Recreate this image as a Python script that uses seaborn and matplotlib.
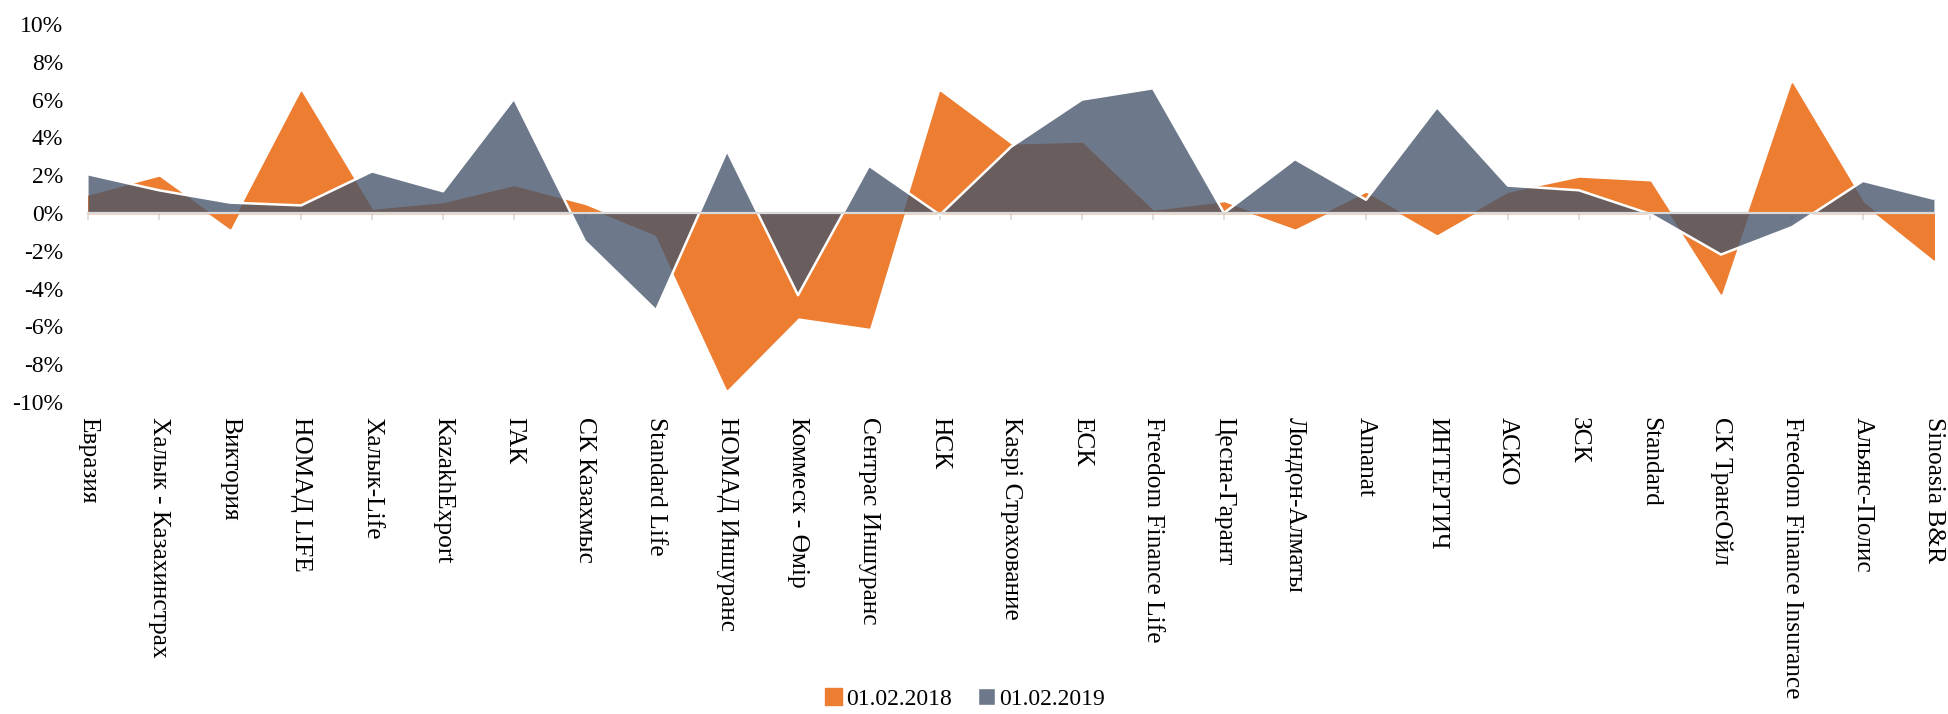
import numpy as np
import pandas as pd
import matplotlib
matplotlib.use('Agg')
import matplotlib.pyplot as plt
import seaborn as sns
from matplotlib.colors import to_rgba
from matplotlib.patches import Patch
from matplotlib.ticker import FuncFormatter

# Данные (изменение, %)
companies = ['Евразия', 'Халык - Казахинстрах', 'Виктория', 'НОМАД LIFE', 'Халык-Life',
             'KazakhExport', 'ГАК', 'СК Казахмыс', 'Standard Life', 'НОМАД Иншуранс',
             'Коммеск - Өмір', 'Сентрас Иншуранс', 'НСК', 'Kaspi Страхование', 'ЕСК',
             'Freedom Finance Life', 'Цесна-Гарант', 'Лондон-Алматы', 'Amanat', 'ИНТЕРТИЧ',
             'АСКО', 'ЗСК', 'Standard', 'СК ТрансОйл', 'Freedom Finance Insurance',
             'Альянс-Полис', 'Sinoasia B&R']
val_2018 = [0.9, 1.9, -0.8, 6.4, 0.15, 0.5, 1.4, 0.4, -1.15, -9.3, -5.5, -6.05, 6.4, 3.6,
            3.7, 0.1, 0.55, -0.8, 1.05, -1.1, 1.05, 1.85, 1.65, -4.25, 6.85, 0.55, -2.45]
val_2019 = [2.05, 1.2, 0.55, 0.4, 2.2, 1.15, 6.05, -1.5, -5.15, 3.3, -4.35, 2.5, -0.1, 3.5,
            6.0, 6.6, 0.0, 2.85, 0.7, 5.6, 1.45, 1.2, -0.05, -2.2, -0.75, 1.7, 0.75]
series_names = ['01.02.2018', '01.02.2019']

orange = '#ED7D31'
gray = to_rgba('#44546A', 0.78)

sns.set_theme(style='white')
plt.rcParams['font.family'] = ['Liberation Serif', 'DejaVu Serif']
plt.rcParams['font.size'] = 17
plt.rcParams['text.color'] = 'black'
plt.rcParams['xtick.color'] = 'black'
plt.rcParams['ytick.color'] = 'black'

df = pd.DataFrame({'Компания': companies, series_names[0]: val_2018, series_names[1]: val_2019})
df['x'] = np.arange(len(df))

fig = plt.figure(figsize=(19.48, 7.14), dpi=100)
ax = fig.add_axes([0.0452, 0.437, 0.9476, 0.5294])

# Области
ax.fill_between(df['x'], 0, df[series_names[0]], facecolor=orange, edgecolor=orange,
                linewidth=1.2, zorder=1)
ax.fill_between(df['x'], 0, df[series_names[1]], facecolor=gray, linewidth=0, zorder=1.1)
# белая граница серии 2019
sns.lineplot(data=df, x='x', y=series_names[1], ax=ax, color='white', linewidth=1.8,
             zorder=1.2)

ax.set_xlim(0, len(df) - 1)
ax.set_ylim(-10, 10)
ax.set_xlabel('')
ax.set_ylabel('')

# Ось категорий на нуле
for s in ['top', 'right', 'left']:
    ax.spines[s].set_visible(False)
ax.spines['bottom'].set_position(('data', 0))
ax.spines['bottom'].set_color('#D9D9D9')
ax.spines['bottom'].set_linewidth(1.6)
ax.spines['bottom'].set_zorder(3)
ax.set_xticks(df['x'])
ax.tick_params(axis='x', length=5, width=1.2, color='#D9D9D9', direction='out',
               labelbottom=False, bottom=True)

ax.set_yticks(range(-10, 11, 2))
ax.yaxis.set_major_formatter(FuncFormatter(lambda v, p: f'{v:.0f}%'))
ax.tick_params(axis='y', length=0, pad=18, labelsize=17)
ax.grid(False)

# Подписи категорий внизу
sec = ax.secondary_xaxis('bottom')
sec.set_xticks(df['x'], labels=companies, rotation=-90)
sec.tick_params(length=0, pad=11, labelsize=18.3)
sec.spines['bottom'].set_visible(False)

handles = [Patch(facecolor=orange, edgecolor=orange),
           Patch(facecolor=gray, edgecolor='white')]
fig.legend(handles, series_names, loc='center', bbox_to_anchor=(965 / 1948, 1 - 699 / 714),
           ncol=2, frameon=False, handlelength=0.7, handleheight=0.7,
           handletextpad=0.2, columnspacing=1.1, fontsize=17)

fig.savefig('out.png', dpi=100)
